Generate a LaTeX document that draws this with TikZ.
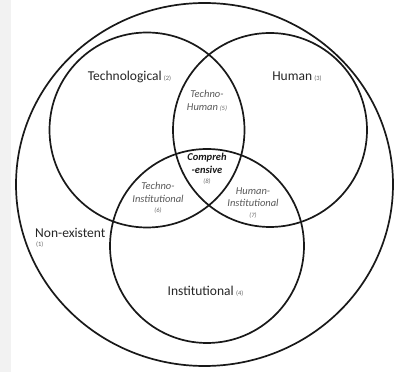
\documentclass[tikz,border=0pt]{standalone}
\usepackage{fontspec}
\setmainfont{Carlito}
\begin{document}
\begin{tikzpicture}[x=1pt,y=1pt,
  ring/.style={draw=black!90,line width=1.7pt},
  mainlab/.style={text=black!85,font=\fontsize{13.5}{16}\selectfont,inner sep=0pt},
  sublab/.style={text=black!65,font=\fontsize{10.5}{12.5}\selectfont\itshape,align=center,inner sep=0pt},
  corelab/.style={text=black!90,font=\fontsize{10.5}{12.5}\selectfont\bfseries\itshape,align=center,inner sep=0pt}]
\newcommand{\smallnum}[1]{{\fontsize{6.5}{7}\selectfont\color{black!60}#1}}
\useasboundingbox (0,0) rectangle (394,372);
\fill[black!5] (0,0) rectangle (11,372);
\fill[white] (11,0) rectangle (394,372);
% circles
\draw[ring] (204.5,187.5) ellipse [x radius=188.5, y radius=181.5];
\node[ring,circle,minimum size=195pt,inner sep=0pt] (tech) at (147,242) {};
\node[ring,circle,minimum size=194pt,inner sep=0pt] (hum) at (270,242) {};
\node[ring,circle,minimum size=194pt,inner sep=0pt] (inst) at (207,126) {};
% labels
\node[mainlab] (ltech) at (129.5,295) {Technological\,\smallnum{(2)}};
\node[mainlab] (lhum) at (297,295) {Human\,\smallnum{(3)}};
\node[mainlab] (linst) at (205.5,81) {Institutional\,\smallnum{(4)}};
\node[mainlab,anchor=west] (lnon) at (35,139) {Non-existent};
\node[anchor=west,inner sep=0pt] (lnonnum) at (36,127) {\smallnum{(1)}};
\node[sublab] (lth) at (207,271) {Techno-\\Human\,\smallnum{\itshape(5)}};
\node[sublab] (lti) at (158,174) {Techno-\\Institutional\\[-2pt]\smallnum{(6)}};
\node[sublab] (lhi) at (253,169) {Human-\\Institutional\\[-2pt]\smallnum{(7)}};
\node[corelab] (lcomp) at (207,203) {Compreh\\-ensive\\[-2pt]\smallnum{\mdseries(8)}};
\end{tikzpicture}
\end{document}
